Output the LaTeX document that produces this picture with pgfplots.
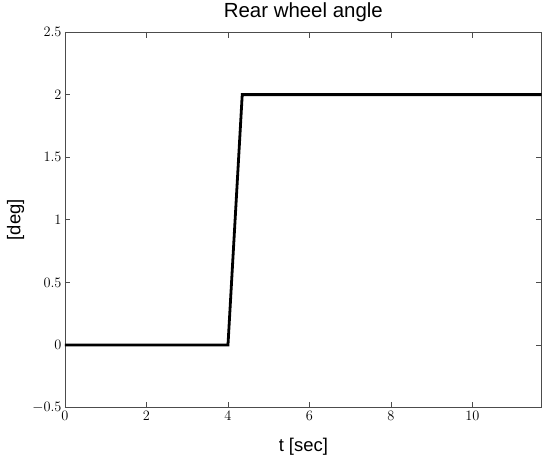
\documentclass[border=0pt]{standalone}
\usepackage{fontspec}
\setmainfont{Liberation Sans}
\usepackage{pgfplots}
\pgfplotsset{compat=1.18}
\begin{document}
\begin{tikzpicture}
\begin{axis}[
  scale only axis, width=476.7bp, height=375.7bp,
  xmin=0, xmax=11.7, ymin=-0.5, ymax=2.5,
  xtick={0,2,4,6,8,10}, ytick={-0.5,0,0.5,1,1.5,2,2.5},
  tick align=inside, major tick length=5.5bp,
  axis line style={draw=black!70, line width=0.9bp},
  every tick/.style={draw=black!70, line width=0.9bp},
  ticklabel style={font=\fontsize{14}{14}\selectfont},
  title={Rear wheel angle},
  title style={font=\fontsize{20.5}{20.5}\selectfont, at={(0.5,1)}, anchor=base, yshift=8.7bp},
  xlabel={t [sec]}, ylabel={[deg]},
  label style={font=\fontsize{18.5}{18.5}\selectfont},
  xlabel style={at={(0.5,0)}, anchor=base, yshift=-44bp},
  ylabel style={at={(0,0.5)}, anchor=base, yshift=44.7bp},
]
\addplot[black, line width=2.8bp] coordinates {(0,0) (4,0) (4.35,2) (11.7,2)};
\coordinate (sw) at (rel axis cs:0,0);
\coordinate (ne) at (rel axis cs:1,1);
\end{axis}
\pgfresetboundingbox
\path ([shift={(-65bp,-55.3bp)}]sw) rectangle ([shift={(8.3bp,32bp)}]ne);
\end{tikzpicture}
\end{document}
